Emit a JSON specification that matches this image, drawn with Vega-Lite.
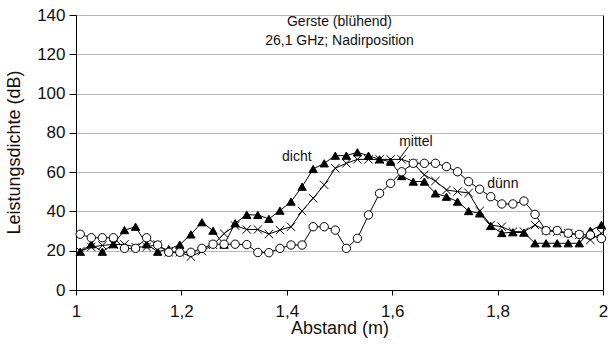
{
  "$schema": "https://vega.github.io/schema/vega-lite/v6.json",
  "width": 527,
  "height": 275,
  "autosize": {"type": "none"},
  "padding": {"left": 76, "top": 15, "right": 7, "bottom": 59},
  "background": "white",
  "config": {
    "view": {"stroke": "black", "strokeWidth": 1},
    "font": "Liberation Sans",
    "axis": {"labelFont": "Liberation Sans", "titleFont": "Liberation Sans", "labelColor": "#111", "titleColor": "#111", "titleFontWeight": "normal", "domainColor": "black", "tickColor": "black", "labelOverlap": false}
  },
  "layer": [
    {
      "data": {"values": [
        {"x":1.008,"v":19.5,"s":"dicht"},{"x":1.029,"v":23.3,"s":"dicht"},{"x":1.050,"v":19.5,"s":"dicht"},{"x":1.071,"v":23.3,"s":"dicht"},{"x":1.092,"v":30.5,"s":"dicht"},{"x":1.113,"v":32.2,"s":"dicht"},{"x":1.134,"v":23.3,"s":"dicht"},{"x":1.155,"v":19.5,"s":"dicht"},{"x":1.176,"v":20.8,"s":"dicht"},{"x":1.197,"v":23.1,"s":"dicht"},{"x":1.218,"v":28.3,"s":"dicht"},{"x":1.239,"v":34.5,"s":"dicht"},{"x":1.260,"v":30.2,"s":"dicht"},{"x":1.281,"v":23.1,"s":"dicht"},{"x":1.302,"v":34,"s":"dicht"},{"x":1.324,"v":38.3,"s":"dicht"},{"x":1.345,"v":38.2,"s":"dicht"},{"x":1.366,"v":36.2,"s":"dicht"},{"x":1.387,"v":40.4,"s":"dicht"},{"x":1.408,"v":45,"s":"dicht"},{"x":1.429,"v":52.6,"s":"dicht"},{"x":1.450,"v":61.6,"s":"dicht"},{"x":1.471,"v":64.5,"s":"dicht"},{"x":1.492,"v":68.4,"s":"dicht"},{"x":1.513,"v":68.4,"s":"dicht"},{"x":1.534,"v":70.1,"s":"dicht"},{"x":1.555,"v":68.4,"s":"dicht"},{"x":1.576,"v":66.5,"s":"dicht"},{"x":1.597,"v":65.3,"s":"dicht"},{"x":1.618,"v":58,"s":"dicht"},{"x":1.640,"v":55.2,"s":"dicht"},{"x":1.661,"v":55.2,"s":"dicht"},{"x":1.682,"v":49.2,"s":"dicht"},{"x":1.703,"v":47.5,"s":"dicht"},{"x":1.724,"v":45,"s":"dicht"},{"x":1.745,"v":40.2,"s":"dicht"},{"x":1.766,"v":39,"s":"dicht"},{"x":1.787,"v":32.6,"s":"dicht"},{"x":1.808,"v":29,"s":"dicht"},{"x":1.829,"v":29.4,"s":"dicht"},{"x":1.850,"v":29.2,"s":"dicht"},{"x":1.871,"v":23.8,"s":"dicht"},{"x":1.892,"v":23.8,"s":"dicht"},{"x":1.913,"v":23.8,"s":"dicht"},{"x":1.934,"v":23.8,"s":"dicht"},{"x":1.955,"v":23.8,"s":"dicht"},{"x":1.976,"v":30.2,"s":"dicht"},{"x":1.997,"v":33.1,"s":"dicht"},
        {"x":1.008,"v":19.7,"s":"mittel"},{"x":1.029,"v":21.9,"s":"mittel"},{"x":1.050,"v":22.7,"s":"mittel"},{"x":1.071,"v":23.2,"s":"mittel"},{"x":1.092,"v":23.2,"s":"mittel"},{"x":1.113,"v":21.9,"s":"mittel"},{"x":1.134,"v":21.9,"s":"mittel"},{"x":1.155,"v":23.2,"s":"mittel"},{"x":1.176,"v":19.2,"s":"mittel"},{"x":1.197,"v":19.2,"s":"mittel"},{"x":1.218,"v":17,"s":"mittel"},{"x":1.239,"v":19.8,"s":"mittel"},{"x":1.260,"v":23,"s":"mittel"},{"x":1.281,"v":28.7,"s":"mittel"},{"x":1.302,"v":32.8,"s":"mittel"},{"x":1.324,"v":30.8,"s":"mittel"},{"x":1.345,"v":30.8,"s":"mittel"},{"x":1.366,"v":28.5,"s":"mittel"},{"x":1.387,"v":30.5,"s":"mittel"},{"x":1.408,"v":32.2,"s":"mittel"},{"x":1.429,"v":40.2,"s":"mittel"},{"x":1.450,"v":46.7,"s":"mittel"},{"x":1.471,"v":53.5,"s":"mittel"},{"x":1.492,"v":62,"s":"mittel"},{"x":1.513,"v":64.5,"s":"mittel"},{"x":1.534,"v":66.5,"s":"mittel"},{"x":1.555,"v":66.5,"s":"mittel"},{"x":1.576,"v":66.5,"s":"mittel"},{"x":1.597,"v":66.5,"s":"mittel"},{"x":1.618,"v":66.5,"s":"mittel"},{"x":1.640,"v":64.5,"s":"mittel"},{"x":1.661,"v":58.6,"s":"mittel"},{"x":1.682,"v":55.5,"s":"mittel"},{"x":1.703,"v":50.9,"s":"mittel"},{"x":1.724,"v":50.1,"s":"mittel"},{"x":1.745,"v":49.4,"s":"mittel"},{"x":1.766,"v":40.2,"s":"mittel"},{"x":1.787,"v":33.1,"s":"mittel"},{"x":1.808,"v":32.2,"s":"mittel"},{"x":1.829,"v":29.7,"s":"mittel"},{"x":1.850,"v":29.7,"s":"mittel"},{"x":1.871,"v":33.1,"s":"mittel"},{"x":1.892,"v":30.2,"s":"mittel"},{"x":1.913,"v":29.7,"s":"mittel"},{"x":1.934,"v":28.9,"s":"mittel"},{"x":1.955,"v":28,"s":"mittel"},{"x":1.976,"v":25.5,"s":"mittel"},{"x":1.997,"v":28.9,"s":"mittel"},
        {"x":1.008,"v":28.4,"s":"dünn"},{"x":1.029,"v":26.6,"s":"dünn"},{"x":1.050,"v":26.6,"s":"dünn"},{"x":1.071,"v":26.6,"s":"dünn"},{"x":1.092,"v":21.2,"s":"dünn"},{"x":1.113,"v":21.2,"s":"dünn"},{"x":1.134,"v":26.6,"s":"dünn"},{"x":1.155,"v":22.9,"s":"dünn"},{"x":1.176,"v":19.2,"s":"dünn"},{"x":1.197,"v":19.2,"s":"dünn"},{"x":1.218,"v":19.2,"s":"dünn"},{"x":1.239,"v":21.2,"s":"dünn"},{"x":1.260,"v":23.3,"s":"dünn"},{"x":1.281,"v":23.3,"s":"dünn"},{"x":1.302,"v":23.3,"s":"dünn"},{"x":1.324,"v":23.1,"s":"dünn"},{"x":1.345,"v":19.1,"s":"dünn"},{"x":1.366,"v":19,"s":"dünn"},{"x":1.387,"v":21.2,"s":"dünn"},{"x":1.408,"v":22.9,"s":"dünn"},{"x":1.429,"v":22.9,"s":"dünn"},{"x":1.450,"v":32.2,"s":"dünn"},{"x":1.471,"v":32.2,"s":"dünn"},{"x":1.492,"v":30.5,"s":"dünn"},{"x":1.513,"v":21.2,"s":"dünn"},{"x":1.534,"v":26.3,"s":"dünn"},{"x":1.555,"v":38.2,"s":"dünn"},{"x":1.576,"v":49.2,"s":"dünn"},{"x":1.597,"v":54.3,"s":"dünn"},{"x":1.618,"v":60.2,"s":"dünn"},{"x":1.640,"v":64.5,"s":"dünn"},{"x":1.661,"v":64.5,"s":"dünn"},{"x":1.682,"v":64.5,"s":"dünn"},{"x":1.703,"v":62.8,"s":"dünn"},{"x":1.724,"v":60.2,"s":"dünn"},{"x":1.745,"v":55.2,"s":"dünn"},{"x":1.766,"v":51.3,"s":"dünn"},{"x":1.787,"v":47.5,"s":"dünn"},{"x":1.808,"v":43.8,"s":"dünn"},{"x":1.829,"v":43.8,"s":"dünn"},{"x":1.850,"v":45.3,"s":"dünn"},{"x":1.871,"v":38.5,"s":"dünn"},{"x":1.892,"v":30.2,"s":"dünn"},{"x":1.913,"v":30.3,"s":"dünn"},{"x":1.934,"v":28.9,"s":"dünn"},{"x":1.955,"v":28.3,"s":"dünn"},{"x":1.976,"v":28,"s":"dünn"},{"x":1.997,"v":26.2,"s":"dünn"}
      ]},
      "encoding": {
        "x": {"field": "x", "type": "quantitative", "scale": {"domain": [1, 2], "nice": false, "zero": false},
          "axis": {"values": [1, 1.2, 1.4, 1.6, 1.8, 2], "tickCount": 10, "grid": false, "title": "Abstand (m)", "titleFontSize": 18, "labelFontSize": 17, "tickSize": 5, "labelPadding": 8, "titlePadding": 0, "labelExpr": "replace(format(datum.value, '.1~f'), '.', ',')", "labelFlush": false}},
        "y": {"field": "v", "type": "quantitative", "scale": {"domain": [0, 140], "nice": false},
          "axis": {"values": [0, 20, 40, 60, 80, 100, 120, 140], "tickCount": 10, "grid": true, "gridColor": "#b8b8b8", "gridWidth": 1, "title": "Leistungsdichte (dB)", "titleFontSize": 18, "labelFontSize": 17, "tickSize": 7, "labelPadding": 4, "titleX": -53, "titleY": 137, "titleAnchor": "middle"}}
      },
      "layer": [
        {"mark": {"type": "line", "color": "black", "strokeWidth": 1}, "encoding": {"detail": {"field": "s"}}},
        {"mark": {"type": "point", "filled": true, "stroke": "black", "strokeWidth": 1, "size": 70, "opacity": 1},
          "encoding": {
            "shape": {"field": "s", "type": "nominal", "scale": {"domain": ["dicht", "mittel", "dünn"], "range": ["triangle-up", "M-1,-1L1,1M-1,1L1,-1", "circle"]}, "legend": null},
            "fill": {"field": "s", "type": "nominal", "scale": {"domain": ["dicht", "mittel", "dünn"], "range": ["black", "transparent", "white"]}, "legend": null}
          }}
      ]
    },
    {
      "data": {"values": [
        {"x": 1.5, "y": 136.5, "t": "Gerste (blühend)"},
        {"x": 1.5, "y": 127, "t": "26,1 GHz; Nadirposition"},
        {"x": 1.419, "y": 67.5, "t": "dicht"},
        {"x": 1.645, "y": 75.5, "t": "mittel"},
        {"x": 1.81, "y": 54, "t": "dünn"}
      ]},
      "mark": {"type": "text", "fontSize": 14, "font": "Liberation Sans", "color": "#111", "align": "center", "baseline": "middle"},
      "encoding": {
        "x": {"field": "x", "type": "quantitative"},
        "y": {"field": "y", "type": "quantitative"},
        "text": {"field": "t"}
      }
    },
    {
      "data": {"values": [{"x": 1.631, "y": 73, "x2": 1.612, "y2": 66.2}]},
      "mark": {"type": "rule", "color": "black", "strokeWidth": 1},
      "encoding": {
        "x": {"field": "x", "type": "quantitative"},
        "y": {"field": "y", "type": "quantitative"},
        "x2": {"field": "x2"},
        "y2": {"field": "y2"}
      }
    }
  ]
}
